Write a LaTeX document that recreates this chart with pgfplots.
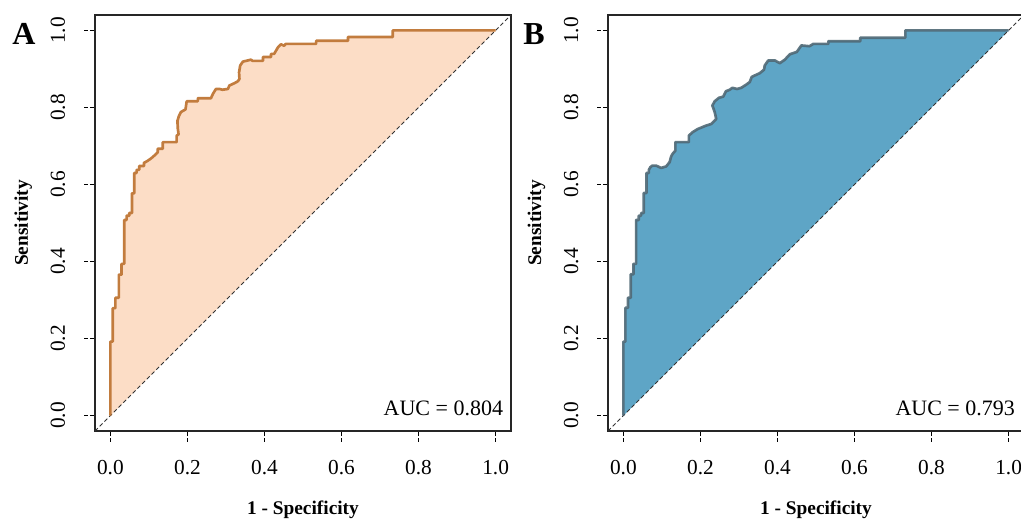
\documentclass[border=0pt]{standalone}
\usepackage{pgfplots}
\pgfplotsset{compat=1.18}
\usepackage{pgfplotstable}
\usepackage{fontspec}
\setmainfont{Liberation Serif}
\definecolor{lineA}{HTML}{C27C3E}
\definecolor{fillA}{HTML}{FCDDC6}
\definecolor{lineB}{HTML}{506976}
\definecolor{fillB}{HTML}{5EA5C6}
\pgfplotstableread{
x y
0 0
0 0.192
0.006 0.192
0.006 0.279
0.013 0.279
0.013 0.306
0.022 0.306
0.022 0.366
0.029 0.366
0.029 0.394
0.036 0.394
0.036 0.508
0.042 0.508
0.042 0.519
0.049 0.519
0.049 0.526
0.056 0.526
0.056 0.577
0.062 0.577
0.062 0.630
0.068 0.630
0.068 0.638
0.075 0.638
0.075 0.648
0.087 0.648
0.087 0.656
0.096 0.661
0.106 0.668
0.114 0.675
0.123 0.684
0.123 0.693
0.136 0.693
0.136 0.710
0.172 0.710
0.172 0.727
0.177 0.730
0.175 0.745
0.174 0.765
0.178 0.778
0.183 0.788
0.195 0.795
0.198 0.816
0.227 0.816
0.227 0.824
0.261 0.824
0.266 0.835
0.274 0.848
0.283 0.848
0.291 0.846
0.305 0.848
0.309 0.857
0.322 0.863
0.331 0.868
0.335 0.874
0.334 0.891
0.337 0.909
0.344 0.919
0.365 0.924
0.369 0.921
0.396 0.921
0.396 0.931
0.417 0.931
0.417 0.939
0.425 0.939
0.435 0.956
0.443 0.964
0.451 0.960
0.455 0.965
0.534 0.965
0.534 0.973
0.617 0.973
0.617 0.983
0.733 0.983
0.733 1
1 1
}\dataA
\pgfplotstableread{
x y
0 0
0 0.192
0.005 0.192
0.005 0.280
0.012 0.280
0.012 0.306
0.019 0.306
0.019 0.367
0.026 0.367
0.026 0.394
0.033 0.394
0.033 0.508
0.040 0.508
0.040 0.519
0.046 0.519
0.046 0.526
0.053 0.526
0.053 0.578
0.060 0.578
0.060 0.630
0.066 0.630
0.066 0.638
0.070 0.645
0.075 0.649
0.085 0.649
0.098 0.643
0.111 0.647
0.120 0.658
0.124 0.673
0.128 0.680
0.135 0.688
0.135 0.710
0.170 0.710
0.170 0.727
0.180 0.736
0.193 0.744
0.215 0.753
0.228 0.757
0.241 0.770
0.237 0.788
0.231 0.805
0.237 0.816
0.248 0.825
0.259 0.828
0.266 0.842
0.276 0.846
0.283 0.851
0.295 0.848
0.306 0.851
0.320 0.860
0.328 0.866
0.333 0.879
0.341 0.883
0.354 0.889
0.365 0.898
0.367 0.909
0.376 0.922
0.393 0.922
0.406 0.915
0.419 0.924
0.432 0.938
0.450 0.944
0.462 0.961
0.483 0.959
0.493 0.965
0.532 0.965
0.532 0.972
0.615 0.972
0.615 0.981
0.732 0.981
0.732 1
1 1
}\dataB
\pgfplotsset{
  rocaxis/.style={
    anchor=south west,
    width=312pt, height=312pt, scale only axis,
    xmin=-0.04, xmax=1.04, ymin=-0.04, ymax=1.04,
    xtick={0,0.2,...,1}, ytick={0,0.2,...,1},
    xtick pos=bottom, ytick pos=left,
    tick align=outside,
    major tick length=8pt,
    major tick style={black, line width=0.7pt, dash pattern=on 3pt off 1.2pt},
    axis line style={line width=0.9pt, black!85},
    /pgf/number format/assume math mode=true,
    /pgf/number format/fixed, /pgf/number format/fixed zerofill, /pgf/number format/precision=1,
    ticklabel style={font=\fontsize{16}{18}\selectfont},
    xticklabel style={anchor=base, yshift=-24.25pt},
    yticklabel style={xshift=-14.5pt, rotate=90, anchor=base},
    every axis x label/.style={at={(axis description cs:0.5,0)}, anchor=base, yshift=-62.25pt, font=\fontsize{14.5}{17}\selectfont\bfseries},
    every axis y label/.style={at={(axis description cs:0,0.5)}, xshift=-50.25pt, rotate=90, anchor=base, font=\fontsize{14.5}{17}\selectfont\bfseries},
    xlabel={1 - Specificity}, ylabel={Sensitivity},
  }
}
\begin{document}
\begin{tikzpicture}
\path[use as bounding box] (0pt,0pt) rectangle (765.75pt,-389.25pt);
\begin{axis}[rocaxis, at={(71.25pt,-323.25pt)}]
\addplot[fill=fillA, draw=none] table[x=x,y=y] {\dataA} --cycle;
\addplot[black!80, line width=0.7pt, dash pattern=on 3pt off 2pt] coordinates {(-0.04,-0.04) (1.04,1.04)};
\addplot[lineA, line width=2pt, line join=round] table[x=x,y=y] {\dataA};
\node[anchor=base east, inner sep=0pt, font=\fontsize{16.5}{18}\selectfont] at (axis cs:1.02,0) {AUC = 0.804};
\end{axis}
\begin{axis}[rocaxis, at={(456pt,-323.25pt)}]
\addplot[fill=fillB, draw=none] table[x=x,y=y] {\dataB} --cycle;
\addplot[black!80, line width=0.7pt, dash pattern=on 3pt off 2pt] coordinates {(-0.04,-0.04) (1.04,1.04)};
\addplot[lineB, opacity=0.9, line width=2pt, line join=round] table[x=x,y=y] {\dataB};
\node[anchor=base east, inner sep=0pt, font=\fontsize{16.5}{18}\selectfont] at (axis cs:1.017,0) {AUC = 0.793};
\end{axis}
\node[anchor=base, font=\fontsize{24}{28}\selectfont\bfseries] at (18pt,-33pt) {A};
\node[anchor=base, font=\fontsize{24}{28}\selectfont\bfseries] at (400.5pt,-33pt) {B};
\end{tikzpicture}
\end{document}
